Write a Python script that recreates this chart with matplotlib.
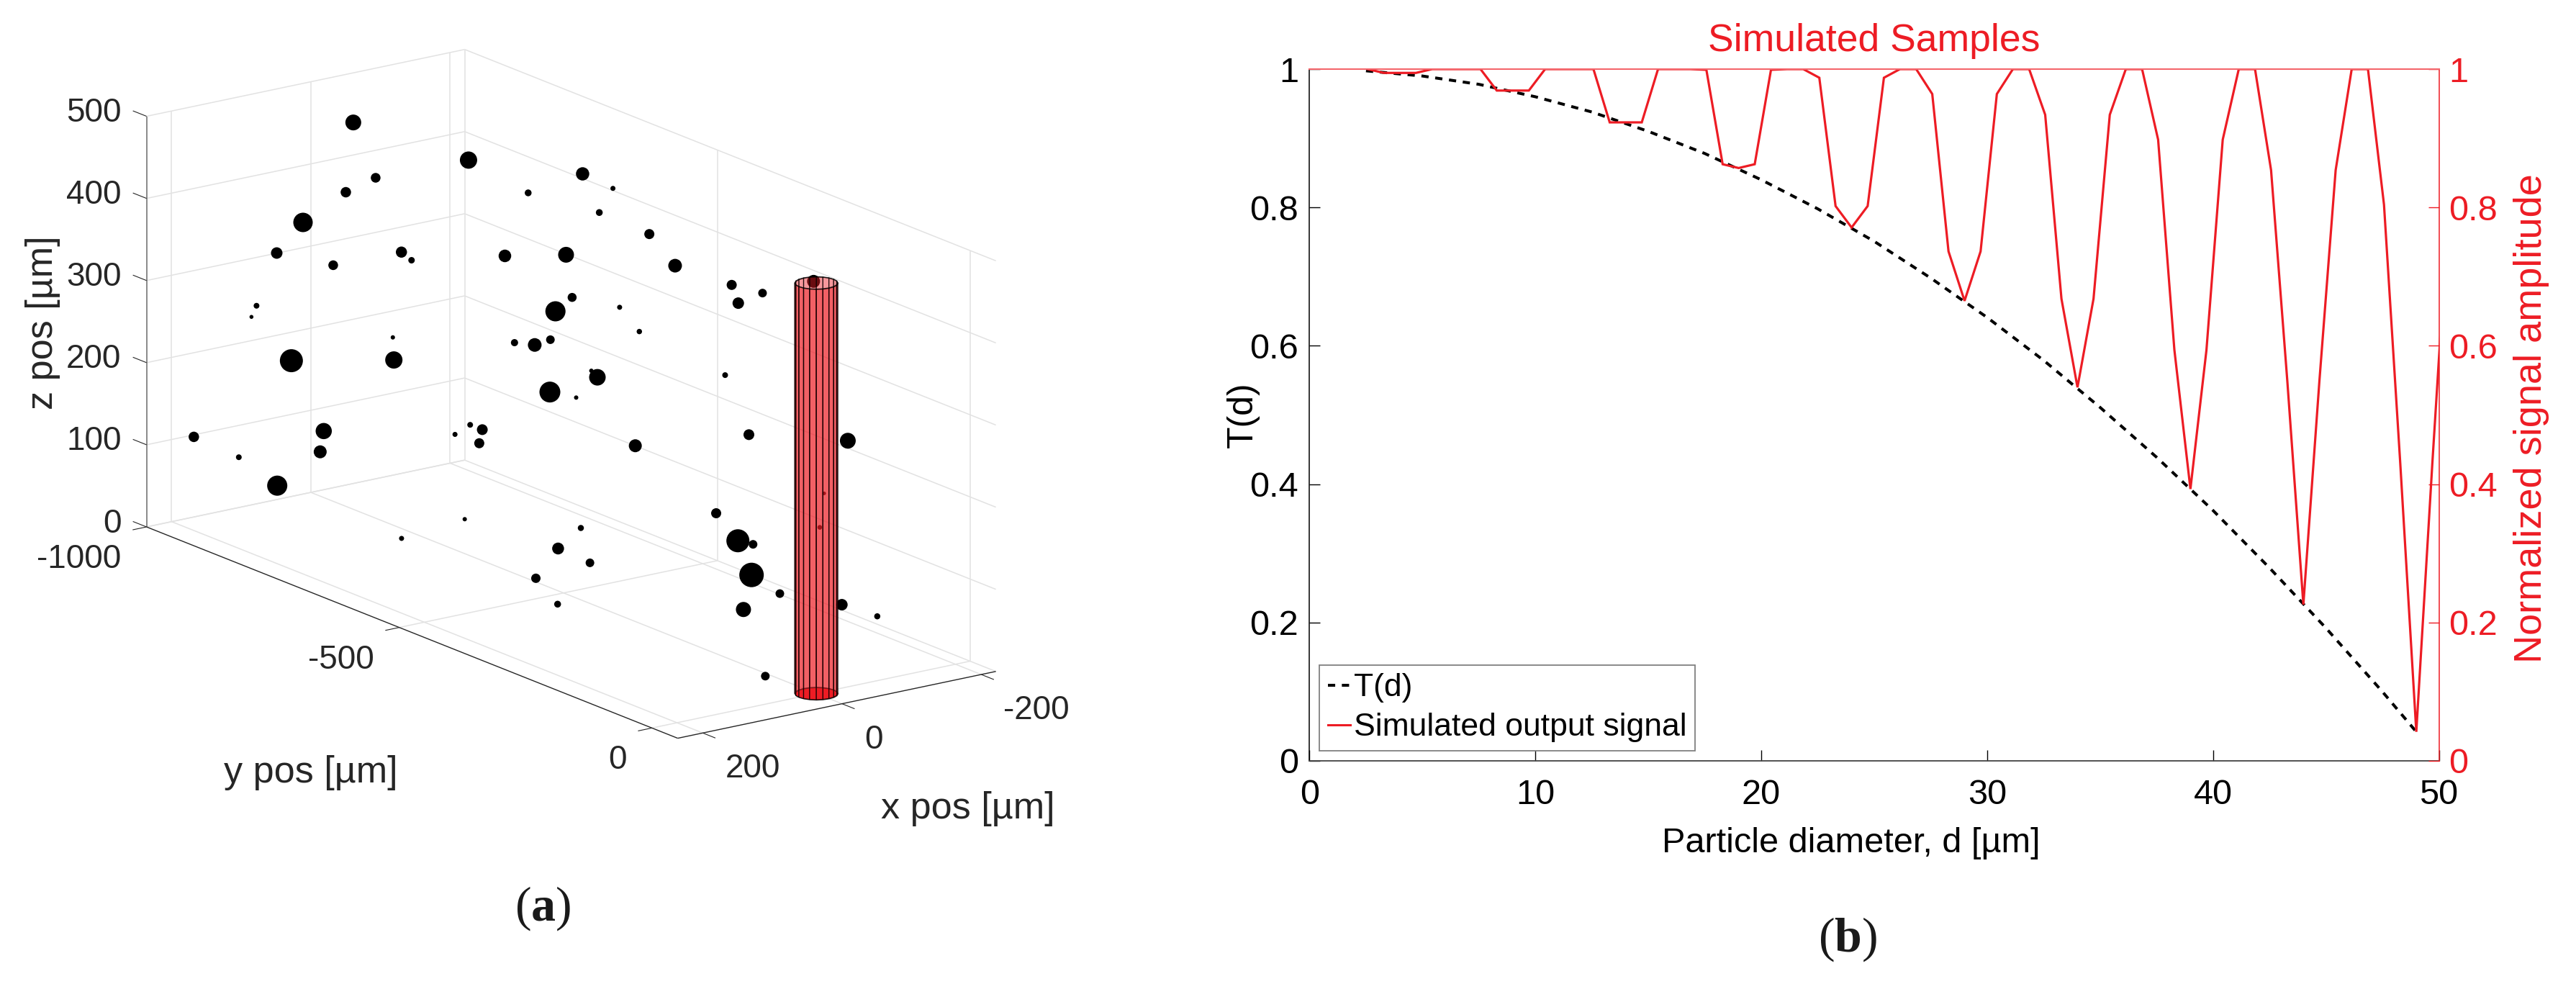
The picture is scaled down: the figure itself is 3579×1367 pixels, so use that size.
import matplotlib
matplotlib.use("Agg")
import numpy as np
import matplotlib.pyplot as plt
from matplotlib.lines import Line2D
from mpl_toolkits.mplot3d import proj3d
from mpl_toolkits.mplot3d.art3d import Poly3DCollection

plt.rcParams['font.family'] = ['Liberation Sans', 'DejaVu Sans']
plt.rcParams['mathtext.fontset'] = 'custom'
plt.rcParams['mathtext.rm'] = 'Liberation Serif'
plt.rcParams['mathtext.bf'] = 'Liberation Serif:bold'

W, H = 3579, 1367

# panel a: particle cloud [um], marker diameter in px
part_x = [0, 0, 100, 100, 200, 200, 100, 100, 100, 200, 200, 200, 100, 100, 200, 200, 200,
          200, 200, 100, 100, 100, 100, 200, 200, 100, 100, 100, 100, 100, -100, 0, -100,
          -100, 0, 0, -100, -100, 0, 0, 0, 0, 0, 0, 0, 0, 0, 0, 0, 0, -100, -100, -100,
          -100, -100, -100, -200, 0, 0, 0, -100, 0, 0, 0, 0, -100, -100, 100]
part_y = [-916, -688, -734, -793, -740, -792, -818, -683, -663, -832, -842, -763, -698,
          -700, -956, -867, -699, -706, -791, -577, -547, -523, -529, -420, -545, -328,
          -373, -310, -417, -374, -600, -570, -540, -567, -616, -495, -468, -417, -483,
          -516, -389, -350, -597, -557, -526, -433, -445, -527, -475, -358, -318, -305,
          -292, -244, -143, -271, -213, -198, -155, -125, -122, 7, -128, -72, -144, -87,
          -17, 37]
part_z = [471, 481, 466, 434, 428, 378, 339, 388, 383, 304, 288, 254, 253, 280, 114, 111,
          184, 157, 95, 192, 211, 211, 193, 145, 91, 139, 103, 101, 56, 35, 468, 470, 465,
          429, 382, 413, 427, 401, 364, 339, 375, 355, 281, 288, 302, 279, 284, 238, 244,
          214, 292, 405, 386, 410, 449, 231, 220, 171, 148, 151, 196, 204, 113, 104, 67,
          69, 72, 48]
part_d = [22, 24, 13.5, 14.5, 27, 16, 13.5, 15.5, 9, 8, 5.5, 32, 24, 6, 14.5, 8, 22.5, 18,
          28, 7, 8, 15, 14, 6, 7, 8.5, 16.5, 12, 13, 9.5, 18.5, 9.5, 7, 9.5, 17.5, 22, 14,
          19, 12.5, 28, 7, 7.5, 10, 19, 12, 23, 6, 29, 6, 18, 8, 14, 16, 12, 18, 15, 22,
          14, 32, 12, 5, 6.5, 34, 12, 21, 16, 8.5, 12]

x_lim = [-221, 236]
y_lim = [-1000, 51]
z_lim = [0, 500]
x_ticks = [200, 0, -200]
y_ticks = [-1000, -500, 0]
z_ticks = [0, 100, 200, 300, 400, 500]
cyl_radius = 25
cyl_height = 500

# panel b
diam_t = [2.5, 5, 7.5, 10, 12.5, 15, 17.5, 20, 22.5, 25, 27.5, 30, 32.5, 35, 37.5, 40,
          42.5, 45, 47.5, 49]
t_vals = [.9975, .990, .978, .960, .938, .910, .878, .840, .798, .751, .698, .641, .579,
          .511, .439, .362, .279, .192, .100, .042]
diam_s = [2.57, 3.29, 4.00, 4.71, 5.43, 6.14, 6.86, 7.57, 8.29, 9.00, 9.71, 10.43, 11.14,
          11.86, 12.57, 13.29, 14.00, 14.71, 15.43, 16.14, 16.86, 17.57, 18.29, 19.00,
          19.71, 20.43, 21.14, 21.86, 22.57, 23.29, 24.00, 24.71, 25.43, 26.14, 26.86,
          27.57, 28.29, 29.00, 29.71, 30.43, 31.14, 31.86, 32.57, 33.29, 34.00, 34.71,
          35.43, 36.14, 36.86, 37.57, 38.29, 39.00, 39.71, 40.43, 41.14, 41.86, 42.57,
          43.29, 44.00, 44.71, 45.43, 46.14, 46.86, 47.57, 48.29, 49.00, 49.71, 50.43]
sig_vals = [1, .9945, .9945, .9945, 1, 1, 1, 1, .969, .969, .969, 1, 1, 1, 1, .923, .923,
            .923, 1, 1, 1, .999, .8625, .857, .8625, .999, 1, 1, .9875, .802, .771, .802,
            .9875, 1, 1, .964, .7365, .665, .7365, .964, 1, 1, .934, .668, .54, .668, .934,
            1, 1, .898, .594, .393, .594, .898, 1, 1, .854, .549, .226, .549, .854, 1, 1,
            .804, .43, .042, .43, .804]
tick_vals = [0, .2, .4, .6, .8, 1]
tick_text = ['0', '0.2', '0.4', '0.6', '0.8', '1']

RED = '#ed1c24'
GRID = '#e2e2e2'
DARK = '#262626'

fig = plt.figure(figsize=(W / 100, H / 100), dpi=100)


def put(px, py, s, **kw):
    # text placed in pixels of the full picture, y going down
    return fig.text(px / W, 1 - py / H, s, **kw)


# --- panel a ---
ax3 = fig.add_axes([0.1, 0.1, 0.4, 0.4 * W / H], projection='3d', computed_zorder=False)
ax3.set_proj_type('ortho')
ax3.set_box_aspect((547, 1257, 596.6))
ax3.view_init(elev=16.8, azim=54.0)
ax3.set_xlim(x_lim[0], x_lim[1], view_margin=0)
ax3.set_ylim(y_lim[0], y_lim[1], view_margin=0)
ax3.set_zlim(z_lim[0], z_lim[1], view_margin=0)
ax3.set_axis_off()


def screen(x, y, z):
    ax3.apply_aspect()
    px, py, _ = proj3d.proj_transform(x, y, z, ax3.get_proj())
    return ax3.transData.transform((px, py))


# fit the box on the corners seen in the reference
target_a = np.array([203.6, H - 732.0])
target_c = np.array([1383.4, H - 934.0])
for _ in range(4):
    a = screen(x_lim[1], y_lim[0], 0)
    c = screen(x_lim[0], y_lim[1], 0)
    k = np.linalg.norm(target_c - target_a) / np.linalg.norm(c - a)
    box = ax3.get_position(original=True)
    side = min(box.width * W, box.height * H) * k
    ax3.set_position([box.x0, box.y0, side / W, side / H])
    a = screen(x_lim[1], y_lim[0], 0)
    box = ax3.get_position(original=True)
    ax3.set_position([box.x0 + (target_a[0] - a[0]) / W, box.y0 + (target_a[1] - a[1]) / H,
                      box.width, box.height])


def line3(xs, ys, zs, color=GRID, lw=1.1, zorder=1):
    ax3.plot(xs, ys, zs, color=color, lw=lw, zorder=zorder, clip_on=False,
             solid_capstyle='butt')


for z in z_ticks:
    line3([x_lim[1], x_lim[0]], [y_lim[0], y_lim[0]], [z, z])
    line3([x_lim[0], x_lim[0]], [y_lim[0], y_lim[1]], [z, z])
for x in x_ticks:
    line3([x, x], [y_lim[0], y_lim[0]], z_lim)
    line3([x, x], y_lim, [0, 0])
for y in y_ticks:
    line3([x_lim[0], x_lim[0]], [y, y], z_lim)
    line3(x_lim, [y, y], [0, 0])

ax3.scatter(part_x, part_y, part_z, s=(np.array(part_d) * 0.72) ** 2, c='black',
            edgecolors='none', depthshade=False, zorder=2, clip_on=False)

# fibre volume, 20 sided like the default MATLAB cylinder, open at the top
theta = np.linspace(0, 2 * np.pi, 21)
cx = cyl_radius * np.cos(theta)
cy = cyl_radius * np.sin(theta)
cyl_face = (237 / 255, 28 / 255, 36 / 255, 0.45)
cyl_edge = (0, 0, 0, 0.72)
sides = [[(cx[i], cy[i], 0), (cx[i + 1], cy[i + 1], 0),
          (cx[i + 1], cy[i + 1], cyl_height), (cx[i], cy[i], cyl_height)] for i in range(20)]
bottom = Poly3DCollection([list(zip(cx, cy, np.zeros(21)))],
                          facecolors=[(237 / 255, 28 / 255, 36 / 255, 1.0)],
                          edgecolors=[cyl_edge], linewidths=1.0, zorder=3)
wall = Poly3DCollection(sides, facecolors=[cyl_face], edgecolors=[cyl_edge],
                        linewidths=0.9, zorder=4)
top = Poly3DCollection([list(zip(cx, cy, np.full(21, cyl_height)))],
                       facecolors=[(1, 1, 1, 0)], edgecolors=[cyl_edge], linewidths=1.0, zorder=5)
ax3.add_collection3d(bottom)
ax3.add_collection3d(wall)
ax3.add_collection3d(top)

# axis rulers and ticks
line3([x_lim[1], x_lim[1]], [y_lim[0], y_lim[0]], z_lim, color='#808080', lw=1.3, zorder=6)
line3([x_lim[1], x_lim[1]], y_lim, [0, 0], color=DARK, lw=1.0, zorder=6)
line3(x_lim, [y_lim[1], y_lim[1]], [0, 0], color=DARK, lw=1.0, zorder=6)
for z in z_ticks:
    line3([x_lim[1], x_lim[1]], [y_lim[0], y_lim[0] - 27], [z, z], color=DARK, lw=0.8, zorder=6)
for x in x_ticks:
    line3([x, x], [y_lim[1], y_lim[1] + 25], [0, 0], color=DARK, lw=0.8, zorder=6)
for y in y_ticks:
    line3([x_lim[1], x_lim[1] + 20], [y, y], [0, 0], color=DARK, lw=0.8, zorder=6)

TICK3 = 33
for z in z_ticks:
    sx, sy = screen(x_lim[1], y_lim[0], z)
    put(sx - 35, H - sy - 9.5, str(z), ha='right', va='center_baseline', fontsize=TICK3,
        color=DARK)
for x in x_ticks:
    sx, sy = screen(x, y_lim[1], 0)
    put(sx + 31, H - sy + 45, str(x), ha='left', va='center_baseline', fontsize=TICK3,
        color=DARK)
for y in y_ticks:
    sx, sy = screen(x_lim[1], y, 0)
    put(sx - 35, H - sy + 40, str(y), ha='right', va='center_baseline', fontsize=TICK3,
        color=DARK)

put(1345, 1123, 'x pos [µm]', ha='center', va='center', fontsize=37.5, color=DARK)
put(431.6, 1074, 'y pos [µm]', ha='center', va='center', fontsize=37.5, color=DARK)
put(60, 448, 'z pos [µm]', ha='center', va='center', rotation=90, fontsize=37.5, color=DARK)
put(754, 1262, r'($\mathbf{a}$)', ha='center', va='center', fontsize=49, color='#1a1a1a',
    family='Liberation Serif')

# --- panel b ---
ax = fig.add_axes([1819.4 / W, (H - 1057) / H, 1569.1 / W, 961 / H])
ax.plot(diam_t, t_vals, color='black', lw=2.9, ls=(0, (2.5, 2.3)), dash_capstyle='butt')
ax.set_xlim(0, 50)
ax.set_ylim(0, 1)
ax.set_xticks([0, 10, 20, 30, 40, 50])
ax.set_yticks(tick_vals)
ax.set_yticklabels(tick_text)
ax.tick_params(axis='both', direction='in', length=10.5, width=1.0, labelsize=35)
ax.tick_params(axis='x', pad=18)
ax.tick_params(axis='y', pad=11)
ax.spines['top'].set_visible(False)
ax.spines['right'].set_visible(False)
ax.spines['left'].set_linewidth(1.1)
ax.spines['bottom'].set_linewidth(1.3)
ax.spines['bottom'].set_color('#444444')
ax.set_xlabel('Particle diameter, d [µm]', fontsize=35, labelpad=16, x=0.4797)
ax.set_ylabel('T(d)', fontsize=36, labelpad=-10)

ax2 = ax.twinx()
ax2.plot(diam_s, sig_vals, color=RED, lw=2.3, solid_joinstyle='miter')
ax2.set_xlim(0, 50)
ax2.set_ylim(0, 1)
ax2.set_yticks(tick_vals)
ax2.set_yticklabels(tick_text)
ax2.tick_params(axis='y', direction='in', length=10.5, width=1.0, labelsize=35, color=RED,
                labelcolor=RED, pad=10)
for side in ['left', 'bottom']:
    ax2.spines[side].set_visible(False)
ax2.spines['top'].set_color('#f4666c')
ax2.spines['top'].set_linewidth(1.5)
ax2.spines['right'].set_color(RED)
ax2.spines['right'].set_linewidth(1.1)
ax2.set_ylabel('Normalized signal amplitude', fontsize=39, color=RED, labelpad=16, y=0.495)
ax2.set_title('Simulated Samples', fontsize=38.5, color=RED, pad=18)

handles = [Line2D([], [], color='black', lw=2.9, ls=(0, (2.5, 2.3))),
           Line2D([], [], color=RED, lw=2.2)]
leg = ax2.legend(handles, ['T(d)', 'Simulated output signal'], loc='lower left',
                 bbox_to_anchor=((1833 - 1819.4) / 1569.1, (1057 - 1043) / 961),
                 borderaxespad=0, fontsize=32, handlelength=0.7, handletextpad=0.12,
                 labelspacing=0.32, borderpad=0.26, fancybox=False, framealpha=1,
                 edgecolor='#808080')
leg.get_frame().set_linewidth(1.3)

put(2567, 1305, r'($\mathbf{b}$)', ha='center', va='center', fontsize=49, color='#1a1a1a',
    family='Liberation Serif')

fig.savefig('out.png', dpi=100)
plt.close(fig)
